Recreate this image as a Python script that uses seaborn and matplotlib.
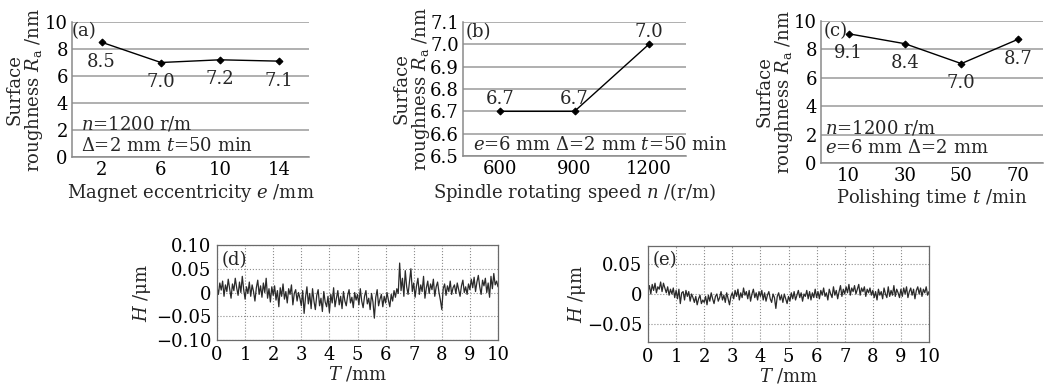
import numpy as np
import matplotlib
matplotlib.use("Agg")
import matplotlib.pyplot as plt
import seaborn as sns

# (a) magnet eccentricity
ecc = [2, 6, 10, 14]
ra_ecc = [8.5, 7.0, 7.2, 7.1]
# (b) spindle speed
speed = [600, 900, 1200]
ra_speed = [6.7, 6.7, 7.0]
# (c) polishing time
ptime = [10, 30, 50, 70]
ra_time = [9.1, 8.4, 7.0, 8.7]

h_before = [
    0.012, -0.004, 0.020, 0.005, 0.024, -0.008, 0.016, 0.002, 0.028, 0.008, -0.012, 0.018, 0.004, 0.030, 0.010, -0.006, 0.022, 0.000, 0.034, 0.006,
    -0.014, 0.012, -0.002, 0.022, -0.008, 0.016, 0.002, -0.018, 0.010, 0.026, -0.004, 0.014, -0.010, 0.020, 0.000, 0.030, -0.012, 0.008, -0.020, 0.012,
    -0.006, 0.014, -0.016, 0.004, -0.030, 0.010, -0.008, 0.018, -0.014, 0.002, -0.022, 0.008, -0.004, 0.016, -0.026, -0.002, 0.006, -0.018, 0.000, -0.012,
    -0.028, 0.004, -0.044, -0.010, 0.012, -0.024, -0.002, -0.034, 0.008, -0.018, -0.036, -0.006, 0.006, -0.028, -0.012, -0.040, 0.002, -0.020, -0.030, -0.008,
    -0.042, -0.004, -0.022, 0.010, -0.030, -0.012, 0.004, -0.026, -0.008, -0.034, 0.002, -0.018, -0.028, -0.006, 0.006, -0.022, -0.010, -0.032, 0.000, -0.016,
    -0.004, -0.026, 0.008, -0.018, -0.032, -0.008, 0.004, -0.024, -0.012, -0.036, -0.002, -0.020, -0.054, -0.010, 0.006, -0.028, -0.014, -0.004, -0.030, -0.008,
    -0.022, 0.000, -0.016, -0.030, -0.004, -0.018, 0.004, -0.010, 0.008, -0.002, 0.062, 0.004, 0.030, -0.008, 0.046, 0.012, -0.004, 0.024, 0.050, 0.002,
    0.020, -0.010, 0.014, 0.030, -0.004, 0.016, 0.002, 0.034, -0.012, 0.010, 0.024, -0.002, 0.018, 0.006, 0.028, -0.008, 0.012, 0.022, 0.000, -0.016,
    -0.036, 0.008, 0.018, -0.006, 0.014, 0.002, 0.024, -0.004, 0.010, 0.016, -0.002, 0.020, 0.006, -0.008, 0.014, 0.026, 0.000, 0.012, -0.004, 0.018,
    0.006, 0.028, 0.010, 0.032, 0.002, 0.022, 0.036, 0.012, -0.004, 0.026, 0.014, 0.030, 0.000, 0.020, -0.010, 0.034, 0.008, 0.040, 0.016, 0.024, 0.012,
]
# (e) profile after
h_after = [
    0.004, 0.014, 0.000, 0.016, 0.006, 0.018, 0.002, 0.012, 0.008, 0.020, 0.004, 0.018, 0.010, 0.002, 0.012, -0.002, 0.008, 0.000, 0.010, -0.006,
    0.006, -0.008, 0.008, -0.016, 0.002, 0.004, -0.010, 0.006, -0.004, 0.004, -0.012, 0.000, -0.006, -0.014, -0.004, -0.018, -0.008, -0.002, -0.016, -0.010,
    -0.014, -0.004, -0.018, -0.002, -0.012, 0.002, -0.008, -0.016, -0.004, 0.000, -0.012, -0.006, 0.004, -0.010, -0.002, -0.014, 0.002, -0.008, -0.018, -0.004,
    0.002, -0.008, 0.006, -0.004, 0.008, -0.010, 0.002, -0.006, 0.010, -0.002, 0.004, -0.008, 0.006, -0.012, 0.000, 0.008, -0.006, 0.002, -0.010, 0.004,
    -0.004, 0.006, -0.010, 0.002, -0.012, -0.002, 0.004, -0.008, -0.014, 0.000, -0.006, -0.024, -0.004, 0.002, -0.010, -0.002, -0.014, 0.000, -0.008, -0.016,
    -0.004, -0.012, 0.002, -0.008, 0.004, -0.010, -0.002, 0.006, -0.006, 0.002, -0.012, 0.000, -0.004, 0.006, -0.008, 0.004, -0.010, 0.002, -0.006, 0.008,
    -0.006, 0.004, -0.008, 0.006, -0.002, 0.010, -0.004, 0.002, -0.010, 0.008, 0.000, -0.006, 0.012, -0.002, 0.006, -0.008, 0.004, 0.014, -0.004, 0.008,
    0.000, 0.012, 0.002, 0.016, -0.002, 0.010, 0.004, 0.014, 0.000, 0.008, 0.016, -0.002, 0.010, 0.004, 0.012, -0.004, 0.008, 0.002, 0.010, -0.002,
    0.006, -0.006, 0.004, -0.010, 0.008, -0.002, 0.004, -0.008, 0.010, 0.000, -0.006, 0.012, -0.004, 0.006, -0.002, 0.014, -0.004, 0.008, 0.002, -0.006,
    0.008, -0.004, 0.010, 0.000, 0.012, -0.006, 0.004, 0.010, -0.002, 0.008, -0.008, 0.006, 0.012, 0.000, 0.010, -0.004, 0.008, 0.002, 0.012, -0.002, 0.004,
]
t_pos = np.linspace(0, 10, len(h_before))

d_ticks = [-0.10, -0.05, 0, 0.05, 0.10]
d_labels = ["\u22120.10", "\u22120.05", "0", "0.05", "0.10"]
e_ticks = [-0.05, 0, 0.05]
e_labels = ["\u22120.05", "0", "0.05"]

sns.set_theme(style="white")
plt.rcParams["font.family"] = ["DejaVu Serif"]
plt.rcParams["mathtext.fontset"] = "dejavuserif"
plt.rcParams["font.size"] = 13

FS = 13
ylab = "Surface\nroughness $R_{\\mathrm{a}}$ /nm"

fig = plt.figure(figsize=(10.44, 3.84), dpi=100)


def px_axes(l, r, t, b):
    return fig.add_axes([l / 1044, 1 - b / 384, (r - l) / 1044, (b - t) / 384])


def style_top(ax):
    ax.grid(axis="y", color="#9a9a9a", lw=1.1, ls="-")
    ax.grid(axis="x", visible=False)
    for s in ["top", "right"]:
        ax.spines[s].set_visible(False)
    for s in ["left", "bottom"]:
        ax.spines[s].set_color("#8a8a8a")
        ax.spines[s].set_linewidth(1.1)
    ax.tick_params(length=0, labelsize=FS, pad=3, colors="black")
    ax.set_axisbelow(True)


def point_line(ax, x, y):
    sns.lineplot(x=x, y=y, ax=ax, color="black", lw=1, marker="D",
                 markersize=3.5, markeredgecolor="black")


def label_pts(ax, x, y, dy, fmt="{:.1f}"):
    for xi, yi in zip(x, y):
        ax.annotate(fmt.format(yi), (xi, yi), xytext=(0, dy), textcoords="offset points",
                    ha="center", va="center", fontsize=FS)


# (a)
ax = px_axes(72, 309, 22, 157)
point_line(ax, ecc, ra_ecc)
style_top(ax)
ax.set_xlim(0, 16)
ax.set_ylim(0, 10)
ax.set_xticks(ecc)
ax.set_yticks([0, 2, 4, 6, 8, 10])
label_pts(ax, ecc, ra_ecc, -14)
ax.text(0.0, 0.93, "(a)", transform=ax.transAxes, fontsize=FS, va="center")
ax.text(0.04, 0.245, "$n$=1200 r/m", transform=ax.transAxes, fontsize=FS, va="center")
ax.text(0.04, 0.08, "$\\Delta$=2 mm $t$=50 min", transform=ax.transAxes, fontsize=FS, va="center")
ax.set_xlabel("Magnet eccentricity $e$ /mm", fontsize=FS, labelpad=2)
ax.set_ylabel(ylab, fontsize=FS, linespacing=0.95)
ax.yaxis.set_label_coords(-0.115, 0.5)

# (b)
ax = px_axes(463, 686, 22, 156)
point_line(ax, speed, ra_speed)
style_top(ax)
ax.set_xlim(450, 1350)
ax.set_ylim(6.5, 7.1)
ax.set_xticks(speed)
ax.set_yticks([6.5, 6.6, 6.7, 6.8, 6.9, 7.0, 7.1])
ax.set_yticklabels(["6.5", "6.6", "6.7", "6.8", "6.9", "7.0", "7.1"])
label_pts(ax, speed, ra_speed, 9)
ax.text(0.01, 0.925, "(b)", transform=ax.transAxes, fontsize=FS, va="center")
ax.text(0.045, 0.08, "$e$=6 mm $\\Delta$=2 mm $t$=50 min", transform=ax.transAxes,
        fontsize=FS, va="center")
ax.set_xlabel("Spindle rotating speed $n$ /(r/m)", fontsize=FS, labelpad=2)
ax.set_ylabel(ylab, fontsize=FS, linespacing=0.95)
ax.yaxis.set_label_coords(-0.14, 0.5)

# (c)
ax = px_axes(821, 1043, 21, 163)
point_line(ax, ptime, ra_time)
style_top(ax)
ax.set_xlim(0.2, 79)
ax.set_ylim(0, 10)
ax.set_xticks(ptime)
ax.set_yticks([0, 2, 4, 6, 8, 10])
label_pts(ax, ptime, ra_time, -14)
ax.text(0.01, 0.93, "(c)", transform=ax.transAxes, fontsize=FS, va="center")
ax.text(0.018, 0.246, "$n$=1200 r/m", transform=ax.transAxes, fontsize=FS, va="center")
ax.text(0.018, 0.106, "$e$=6 mm $\\Delta$=2 mm", transform=ax.transAxes, fontsize=FS, va="center")
ax.set_xlabel("Polishing time $t$ /min", fontsize=FS, labelpad=1)
ax.set_ylabel(ylab, fontsize=FS, linespacing=0.95)
ax.yaxis.set_label_coords(-0.118, 0.5)


def style_bottom(ax, ticks, labels, lim):
    ax.set_xlim(0, 10)
    ax.set_ylim(-lim, lim)
    ax.set_xticks(range(11))
    ax.set_yticks(ticks)
    ax.set_yticklabels(labels)
    ax.grid(True, color="#8c8c8c", ls=":", lw=0.8)
    for s in ax.spines.values():
        s.set_visible(True)
        s.set_color("#6a6a6a")
        s.set_linewidth(0.9)
    ax.tick_params(length=0, labelsize=FS, pad=4, colors="black")
    ax.set_xlabel("$T$ /mm", fontsize=FS, labelpad=1)
    ax.set_ylabel("$H$ /\u03bcm", fontsize=FS)


# (d)
ax = px_axes(217, 498, 245, 340)
sns.lineplot(x=t_pos, y=h_before, ax=ax, color="#2a2a2a", lw=0.9)
style_bottom(ax, d_ticks, d_labels, 0.10)
ax.text(0.015, 0.84, "(d)", transform=ax.transAxes, fontsize=FS, va="center")
ax.yaxis.set_label_coords(-0.228, 0.5)

# (e)
ax = px_axes(648, 929, 246, 342)
sns.lineplot(x=t_pos, y=h_after, ax=ax, color="#2a2a2a", lw=0.9)
style_bottom(ax, e_ticks, e_labels, 0.08)
ax.text(0.015, 0.85, "(e)", transform=ax.transAxes, fontsize=FS, va="center")
ax.yaxis.set_label_coords(-0.214, 0.5)

fig.savefig("out.png", dpi=100)
